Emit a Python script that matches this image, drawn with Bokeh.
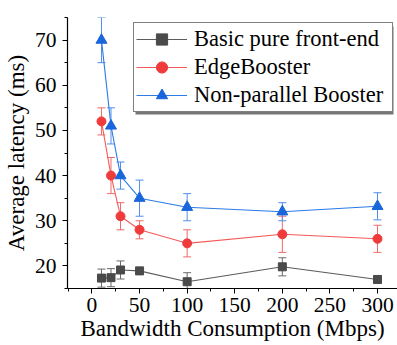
from bokeh.plotting import figure
from bokeh.models import ColumnDataSource, Whisker, TeeHead, Legend, LegendItem, SingleIntervalTicker, Range1d, BoxAnnotation
from bokeh.embed import file_html
from bokeh.resources import INLINE

bandwidth = [10, 20, 30, 50, 100, 200, 300]
basic = [17.3, 17.4, 19.1, 18.9, 16.5, 19.8, 17.0]
basic_err = [2.0, 2.0, 2.0, 0.8, 2.0, 2.0, 0.8]
edge = [52, 40, 31, 28, 25, 27, 26]
edge_err = [3, 4, 3, 2, 3, 4, 3]
nonpar = [70, 51, 40, 35, 33, 32, 33.2]
nonpar_err = [5, 4, 3, 4, 3, 2, 3]

FONT = "Liberation Serif"

p = figure(width=397, height=345, output_backend="svg", toolbar_location=None,
           x_range=Range1d(-25.7, 321), y_range=Range1d(15, 75),
           min_border_left=64, min_border_right=0, min_border_top=17, min_border_bottom=57)
p.outline_line_color = None
p.grid.visible = False
p.background_fill_color = "white"

series = [
    ("Basic pure front-end", basic, basic_err, "#4a4a4a", "#5c5c5c", "#6a6a6a", "square", 8),
    ("EdgeBooster", edge, edge_err, "#ef3b3b", "#f45a5a", "#f06a6a", "circle", 9),
    ("Non-parallel Booster", nonpar, nonpar_err, "#1a66db", "#2c7be5", "#4f8eec", "triangle", 11),
]

items = []
for name, vals, errs, mcol, lcol, ecol, marker, size in series:
    src = ColumnDataSource(dict(x=bandwidth, y=vals,
                                lo=[v - e for v, e in zip(vals, errs)],
                                hi=[v + e for v, e in zip(vals, errs)]))
    w = Whisker(source=src, base="x", lower="lo", upper="hi", line_color=ecol, line_width=1,
                upper_head=TeeHead(size=8, line_color=ecol, line_width=1),
                lower_head=TeeHead(size=8, line_color=ecol, line_width=1))
    p.add_layout(w)
    r1 = p.line("x", "y", source=src, line_color=lcol, line_width=1.1)
    r2 = p.scatter("x", "y", source=src, marker=marker, size=size, fill_color=mcol, line_color=mcol)
    items.append(LegendItem(label=name, renderers=[r1, r2]))

# legend drop shadow (screen units are measured from the frame's bottom-left corner)
shadow = BoxAnnotation(left=68, right=326, top=262, bottom=174,
                       left_units="screen", right_units="screen", top_units="screen", bottom_units="screen",
                       fill_color="#777777", fill_alpha=1, line_color=None)
p.add_layout(shadow)

legend = Legend(items=items, location=(66, 176), border_line_color="black", border_line_width=1.2,
                label_text_font=FONT, label_text_font_size="22.5px", label_text_color="black",
                glyph_width=51, glyph_height=28, label_height=28, label_width=196, spacing=0, padding=2, margin=0,
                label_standoff=7, background_fill_color="white", background_fill_alpha=1)
p.add_layout(legend, "center")

for ax in (p.xaxis, p.yaxis):
    ax.axis_line_color = "black"
    ax.axis_line_width = 1.2
    ax.major_tick_line_color = "black"
    ax.minor_tick_line_color = "black"
    ax.major_tick_out = 5
    ax.major_tick_in = 0
    ax.minor_tick_out = 3
    ax.minor_tick_in = 0
    ax.major_label_text_font = FONT
    ax.major_label_text_font_size = "21.5px"
    ax.major_label_text_color = "black"
    ax.axis_label_text_font = FONT
    ax.axis_label_text_font_size = "23px"
    ax.axis_label_text_font_style = "normal"
    ax.axis_label_text_color = "black"

p.xaxis.ticker = SingleIntervalTicker(interval=50, num_minor_ticks=2)
p.yaxis.ticker = SingleIntervalTicker(interval=10, num_minor_ticks=2)
p.xaxis.axis_label = "Bandwidth Consumption (Mbps)"
p.yaxis.axis_label = "Average latency (ms)"
p.xaxis.major_label_standoff = 4
p.yaxis.major_label_standoff = 6
p.xaxis.axis_label_standoff = 1
p.yaxis.axis_label_standoff = 3

open("out.html", "w").write(file_html(p, INLINE))
